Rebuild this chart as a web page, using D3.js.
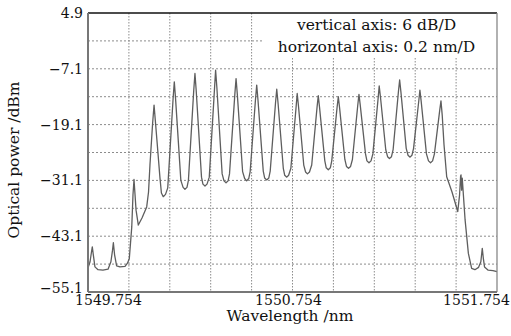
<!DOCTYPE html>
<html>
<head>
<meta charset="utf-8">
<script src="https://cdn.jsdelivr.net/npm/d3@7"></script>
<style>
body { margin: 0; background: #fff; }
svg { display: block; }
</style>
</head>
<body>
<script>
// spectrum: wavelength (nm) and optical power (dBm)
var wavelength = [
    1549.755, 1549.764, 1549.771, 1549.775, 1549.780, 1549.788, 1549.803, 1549.827, 1549.852,
    1549.866, 1549.874, 1549.878, 1549.884, 1549.894, 1549.910, 1549.935, 1549.947, 1549.956,
    1549.968, 1549.974, 1549.979, 1549.984, 1549.989, 1550.000, 1550.018, 1550.041, 1550.050,
    1550.057, 1550.070, 1550.077, 1550.083, 1550.091, 1550.106, 1550.113, 1550.122, 1550.133,
    1550.144, 1550.170, 1550.176, 1550.182, 1550.208, 1550.219, 1550.228, 1550.238,
    1550.245, 1550.271, 1550.277, 1550.283, 1550.309, 1550.316, 1550.326, 1550.336,
    1550.347, 1550.373, 1550.378, 1550.384, 1550.410, 1550.419, 1550.429, 1550.439,
    1550.446, 1550.472, 1550.478, 1550.484, 1550.510, 1550.520, 1550.530, 1550.540,
    1550.547, 1550.573, 1550.579, 1550.585, 1550.611, 1550.618, 1550.628, 1550.638,
    1550.645, 1550.671, 1550.677, 1550.683, 1550.709, 1550.716, 1550.726, 1550.735,
    1550.746, 1550.772, 1550.777, 1550.783, 1550.809, 1550.818, 1550.827, 1550.837,
    1550.848, 1550.874, 1550.880, 1550.886, 1550.912, 1550.919, 1550.929, 1550.939,
    1550.946, 1550.972, 1550.978, 1550.984, 1551.010, 1551.018, 1551.028, 1551.038,
    1551.047, 1551.073, 1551.079, 1551.085, 1551.111, 1551.118, 1551.128, 1551.138,
    1551.147, 1551.173, 1551.178, 1551.184, 1551.210, 1551.219, 1551.228, 1551.238,
    1551.246, 1551.272, 1551.278, 1551.284, 1551.310, 1551.319, 1551.329, 1551.338,
    1551.346, 1551.372, 1551.377, 1551.383, 1551.409, 1551.419, 1551.429, 1551.439,
    1551.448, 1551.474, 1551.480, 1551.486, 1551.495, 1551.508, 1551.534, 1551.562,
    1551.571, 1551.576, 1551.578, 1551.581, 1551.584, 1551.598, 1551.614, 1551.630,
    1551.646, 1551.664, 1551.675, 1551.682, 1551.687, 1551.693, 1551.711, 1551.734, 1551.754
];
var power = [
    -49.8, -48.6, -46.5, -45.4, -47.1, -49.7, -50.3, -50.4, -50.2,
    -48.6, -46.1, -44.5, -47.1, -49.5, -49.7, -49.6, -48.9, -47.9,
    -41.1, -34.2, -30.9, -34.2, -37.5, -40.7, -39.2, -36.8, -33.6,
    -27.8, -18.8, -14.9, -18.1, -22.4, -30.6, -33.8, -34.6, -34.1,
    -32.7, -13.6, -9.9, -13.4, -31.1, -32.6, -33.0, -32.6,
    -31.1, -11.8, -8.1, -11.7, -30.4, -31.9, -32.3, -31.9,
    -30.4, -11.1, -7.4, -11.0, -29.7, -31.2, -31.6, -31.2,
    -29.7, -12.6, -9.2, -12.5, -29.2, -30.7, -31.2, -30.7,
    -29.2, -13.7, -10.6, -13.7, -29.1, -30.6, -31.0, -30.6,
    -29.1, -14.4, -11.5, -14.3, -28.5, -30.0, -30.4, -30.0,
    -28.5, -15.1, -12.4, -15.0, -27.8, -29.3, -29.7, -29.3,
    -27.8, -15.4, -12.9, -15.3, -26.9, -28.4, -28.8, -28.4,
    -26.9, -15.4, -13.1, -15.4, -26.6, -28.1, -28.5, -28.1,
    -26.6, -15.0, -12.6, -14.8, -25.4, -26.9, -27.3, -26.9,
    -25.4, -13.3, -10.8, -13.1, -24.5, -26.0, -26.4, -26.0,
    -24.5, -12.0, -9.5, -12.0, -24.2, -25.7, -26.1, -25.7,
    -24.2, -13.8, -11.7, -14.0, -25.4, -26.9, -27.3, -26.9,
    -25.4, -16.0, -14.0, -17.0, -23.5, -30.3, -33.6, -37.8,
    -34.2, -30.2, -29.9, -33.2, -30.6, -39.6, -46.8, -50.0,
    -50.3, -49.8, -48.6, -45.7, -47.8, -49.7, -50.4, -50.5, -50.7
];

var xTicks = [1549.754, 1550.754, 1551.754];
var yTicks = [4.9, -7.1, -19.1, -31.1, -43.1, -55.1];
var xGrid = d3.range(1, 10).map(i => 1549.754 + 0.2 * i);
var yGrid = d3.range(1, 10).map(i => -55.1 + 6 * i);
var notes = ["vertical axis: 6 dB/D", "horizontal axis: 0.2 nm/D"];

var svgWidth = 511;
var svgHeight = 336;
var margin = { top: 13, right: 14, bottom: 44, left: 88 };
var chartWidth = svgWidth - margin.left - margin.right;
var chartHeight = svgHeight - margin.top - margin.bottom;

var svg = d3.select('body').append('svg')
    .attr('width', svgWidth)
    .attr('height', svgHeight)
    .style('font-family', '"DejaVu Serif", serif');

var chartGroup = svg.append('g')
    .attr('transform', `translate(${margin.left}, ${margin.top})`);

var x = d3.scaleLinear().domain([1549.754, 1551.754]).range([0, chartWidth]);
var y = d3.scaleLinear().domain([-55.1, 4.9]).range([chartHeight, 0]);

// dotted grid
chartGroup.selectAll('.vgrid')
    .data(xGrid)
    .enter()
    .append('line')
    .attr('class', 'vgrid')
    .attr('x1', d => x(d)).attr('x2', d => x(d))
    .attr('y1', 0).attr('y2', chartHeight)
    .attr('stroke', '#8c8c8c')
    .attr('stroke-dasharray', '1.5,1.5');

chartGroup.selectAll('.hgrid')
    .data(yGrid)
    .enter()
    .append('line')
    .attr('class', 'hgrid')
    .attr('x1', 0).attr('x2', chartWidth)
    .attr('y1', d => y(d)).attr('y2', d => y(d))
    .attr('stroke', '#8c8c8c')
    .attr('stroke-dasharray', '2,2');

// white box behind the note
chartGroup.append('rect')
    .attr('x', 174).attr('y', 0)
    .attr('width', chartWidth - 174).attr('height', 45)
    .attr('fill', '#fff');

// spectrum
var line = d3.line()
    .x((d, i) => x(wavelength[i]))
    .y(d => y(d));

chartGroup.append('path')
    .datum(power)
    .attr('d', line)
    .attr('fill', 'none')
    .attr('stroke', '#5e5e5e')
    .attr('stroke-width', 1.3)
    .attr('stroke-linejoin', 'round');

// frame
chartGroup.append('line').attr('x1', 0).attr('x2', chartWidth).attr('y1', 0).attr('y2', 0)
    .attr('stroke', '#111').attr('stroke-width', 1.7);
chartGroup.append('line').attr('x1', chartWidth).attr('x2', chartWidth).attr('y1', 0).attr('y2', chartHeight)
    .attr('stroke', '#888').attr('stroke-width', 1.3);
chartGroup.append('line').attr('x1', 0).attr('x2', 0).attr('y1', 0).attr('y2', chartHeight)
    .attr('stroke', '#777').attr('stroke-width', 2);
chartGroup.append('line').attr('x1', 0).attr('x2', chartWidth).attr('y1', chartHeight).attr('y2', chartHeight)
    .attr('stroke', '#777').attr('stroke-width', 2);

// axes
var yAxis = chartGroup.append('g')
    .call(d3.axisLeft(y).tickValues(yTicks).tickSize(0).tickPadding(5).tickFormat(d3.format('.1f')));
yAxis.select('.domain').remove();
yAxis.selectAll('text')
    .attr('font-family', '"DejaVu Serif", serif')
    .attr('font-size', 14)
    .attr('fill', '#111')
    .attr('dy', d => d === -55.1 ? '0.05em' : '0.32em');

var xShift = [20, -4.5, -21];
var xAxis = chartGroup.append('g')
    .attr('transform', `translate(0, ${chartHeight})`)
    .call(d3.axisBottom(x).tickValues(xTicks).tickSize(0).tickPadding(3.5).tickFormat(d3.format('.3f')));
xAxis.select('.domain').remove();
xAxis.selectAll('text')
    .attr('font-family', '"DejaVu Serif", serif')
    .attr('font-size', 14)
    .attr('fill', '#111')
    .attr('dx', (d, i) => xShift[i]);

// titles
svg.append('text')
    .attr('x', 290).attr('y', 321)
    .attr('text-anchor', 'middle')
    .attr('font-size', 15.5)
    .attr('fill', '#111')
    .text('Wavelength /nm');

svg.append('text')
    .attr('transform', 'translate(19, 160) rotate(-90)')
    .attr('text-anchor', 'middle')
    .attr('font-size', 15.5)
    .attr('fill', '#111')
    .text('Optical power /dBm');

chartGroup.selectAll('.note')
    .data(notes)
    .enter()
    .append('text')
    .attr('class', 'note')
    .attr('x', 288.5)
    .attr('y', (d, i) => 17 + i * 21.5)
    .attr('text-anchor', 'middle')
    .attr('font-size', 15.5)
    .attr('fill', '#111')
    .text(d => d);
</script>
</body>
</html>
